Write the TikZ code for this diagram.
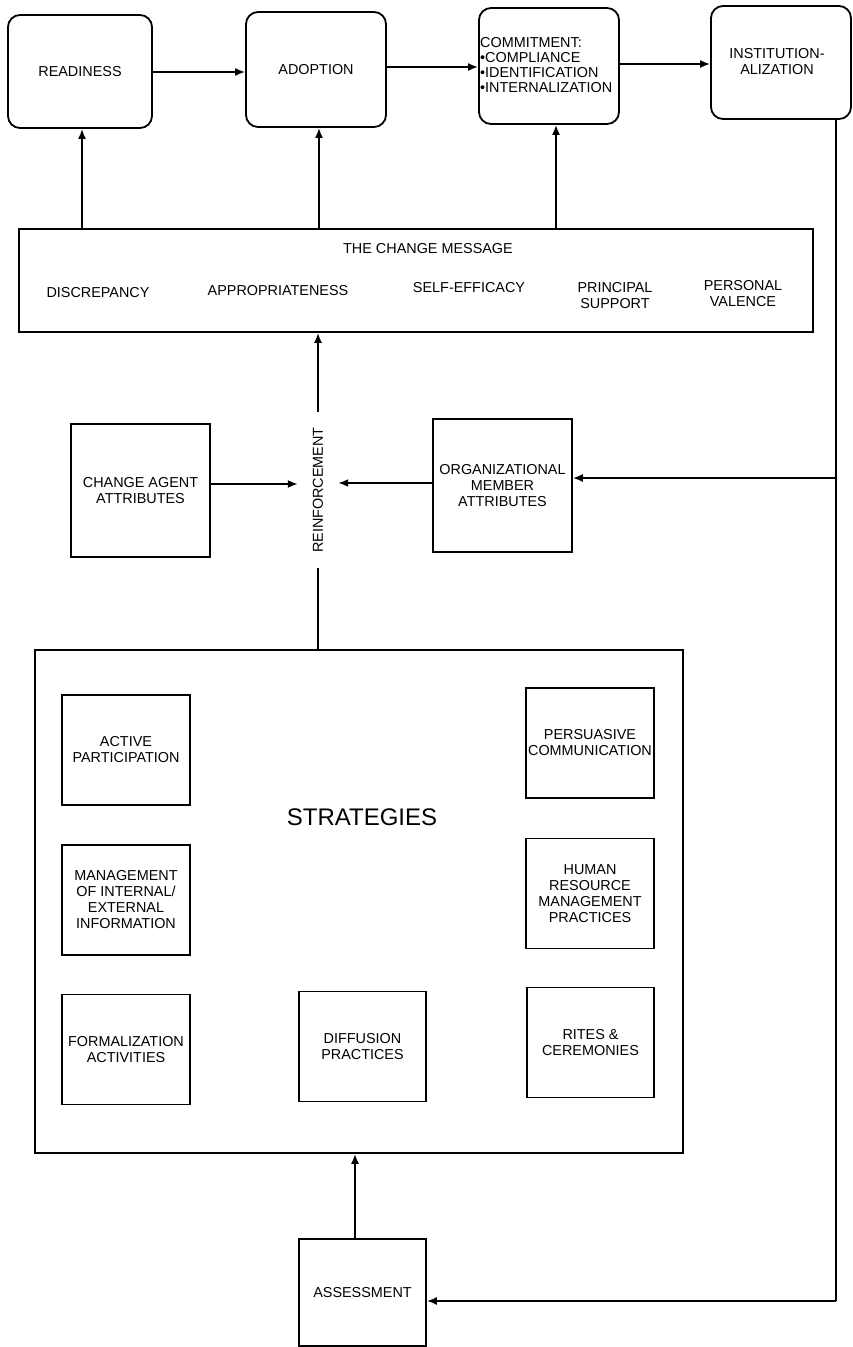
\documentclass[tikz,border=0pt]{standalone}
\usepackage{fontspec}
\setmainfont{Liberation Sans}
\usetikzlibrary{arrows.meta}
\begin{document}
\begin{tikzpicture}[x=1pt,y=-1pt,
  every node/.style={font=\fontsize{14.4}{16}\selectfont, align=center, inner sep=1pt},
  stage/.style={draw, line width=1.8pt, rounded corners=12pt, minimum width=140pt, minimum height=114pt},
  sq/.style={draw, line width=1.7pt, minimum width=128pt, minimum height=110pt},
  wide/.style={draw, line width=1.7pt},
  arr/.style={line width=1.8pt, -{Latex[length=10pt,width=8pt]}},
  ln/.style={line width=1.8pt}]
\useasboundingbox (0,0) rectangle (853,1347);
\fill[white] (0,0) rectangle (853,1347);

% stages of the change process
\node[stage, minimum width=144pt, minimum height=113pt] (ready) at (80,71.5) {READINESS};
\node[stage, minimum height=115pt] (adopt) at (316,69.5) {ADOPTION};
\node[stage, minimum height=116pt] (commit) at (549,66) {};
\node[anchor=west, align=left, inner sep=0pt, font=\fontsize{14.4}{15}\selectfont] (committxt) at (480,65)
  {COMMITMENT:\\\textbullet COMPLIANCE\\\textbullet IDENTIFICATION\\\textbullet INTERNALIZATION};
\node[stage, minimum height=113pt] (inst) at (781,62.5) {};
\node (insttxt) at (777,61.5) {INSTITUTION-\\ALIZATION};

\draw[arr] (ready.east |- 0,72) -- (adopt.west |- 0,72);
\draw[arr] (adopt.east |- 0,67) -- (commit.west |- 0,67);
\draw[arr] (commit.east |- 0,64) -- (inst.west |- 0,64);

% the change message
\node[wide, minimum width=794pt, minimum height=103pt] (msg) at (416,280.5) {};
\node (msgtitle) at (428,249) {THE CHANGE MESSAGE};
\node (discr) at (98,293) {DISCREPANCY};
\node (appro) at (278,291) {APPROPRIATENESS};
\node (selfe) at (469,288) {SELF-EFFICACY};
\node (princ) at (615,295.5) {PRINCIPAL\\SUPPORT};
\node (perso) at (743,294) {PERSONAL\\VALENCE};

\draw[arr] (82,0 |- msg.north) -- (82,0 |- ready.south);
\draw[arr] (319,0 |- msg.north) -- (319,0 |- adopt.south);
\draw[arr] (556,0 |- msg.north) -- (556,0 |- commit.south);

% attributes and reinforcement
\node[wide, minimum width=139pt, minimum height=133pt] (agent) at (140.5,490.5) {CHANGE AGENT\\ATTRIBUTES};
\node[wide, minimum width=139pt, minimum height=133pt] (org) at (502.5,485.5) {ORGANIZATIONAL\\MEMBER\\ATTRIBUTES};
\node[minimum width=40pt, minimum height=156pt, inner sep=0pt] (reinf) at (318,490) {\rotatebox{90}{REINFORCEMENT}};

\draw[arr] (reinf.north) -- (reinf.north |- msg.south);
\draw[arr] (agent.east |- 0,484) -- (reinf.west |- 0,484);
\draw[arr] (org.west |- 0,483) -- (reinf.east |- 0,483);

% strategies
\node[wide, minimum width=648pt, minimum height=503pt] (strat) at (359,901.5) {};
\node[font=\fontsize{24}{27}\selectfont] (strattxt) at (362,817) {STRATEGIES};
\node[sq] (active) at (126,750) {ACTIVE\\PARTICIPATION};
\node[sq] (persu) at (590,743) {PERSUASIVE\\COMMUNICATION};
\node[sq] (mgmt) at (126,900) {MANAGEMENT\\OF INTERNAL/\\EXTERNAL\\INFORMATION};
\node[sq] (hrm) at (590,893.5) {HUMAN\\RESOURCE\\MANAGEMENT\\PRACTICES};
\node[sq] (formal) at (126,1049.5) {FORMALIZATION\\ACTIVITIES};
\node[sq, minimum width=127pt] (diff) at (362.5,1046.5) {DIFFUSION\\PRACTICES};
\node[sq, minimum width=127pt] (rites) at (590.5,1042.5) {RITES \&\\CEREMONIES};

\draw[ln] (reinf |- strat.north) -- (reinf.south);

% assessment and feedback loop
\node[wide, minimum width=127pt, minimum height=107pt] (assess) at (362.5,1292.5) {ASSESSMENT};
\draw[arr] (355,0 |- assess.north) -- (355,0 |- strat.south);

\coordinate (r0) at (836,0 |- inst.south);
\coordinate (r1) at (836,1301);
\coordinate (r2) at (836,478);
\draw[ln] (r0) -- (r1);
\draw[arr] (r1) -- (assess.east |- r1);
\draw[arr] (r2) -- (org.east |- r2);
\end{tikzpicture}
\end{document}
